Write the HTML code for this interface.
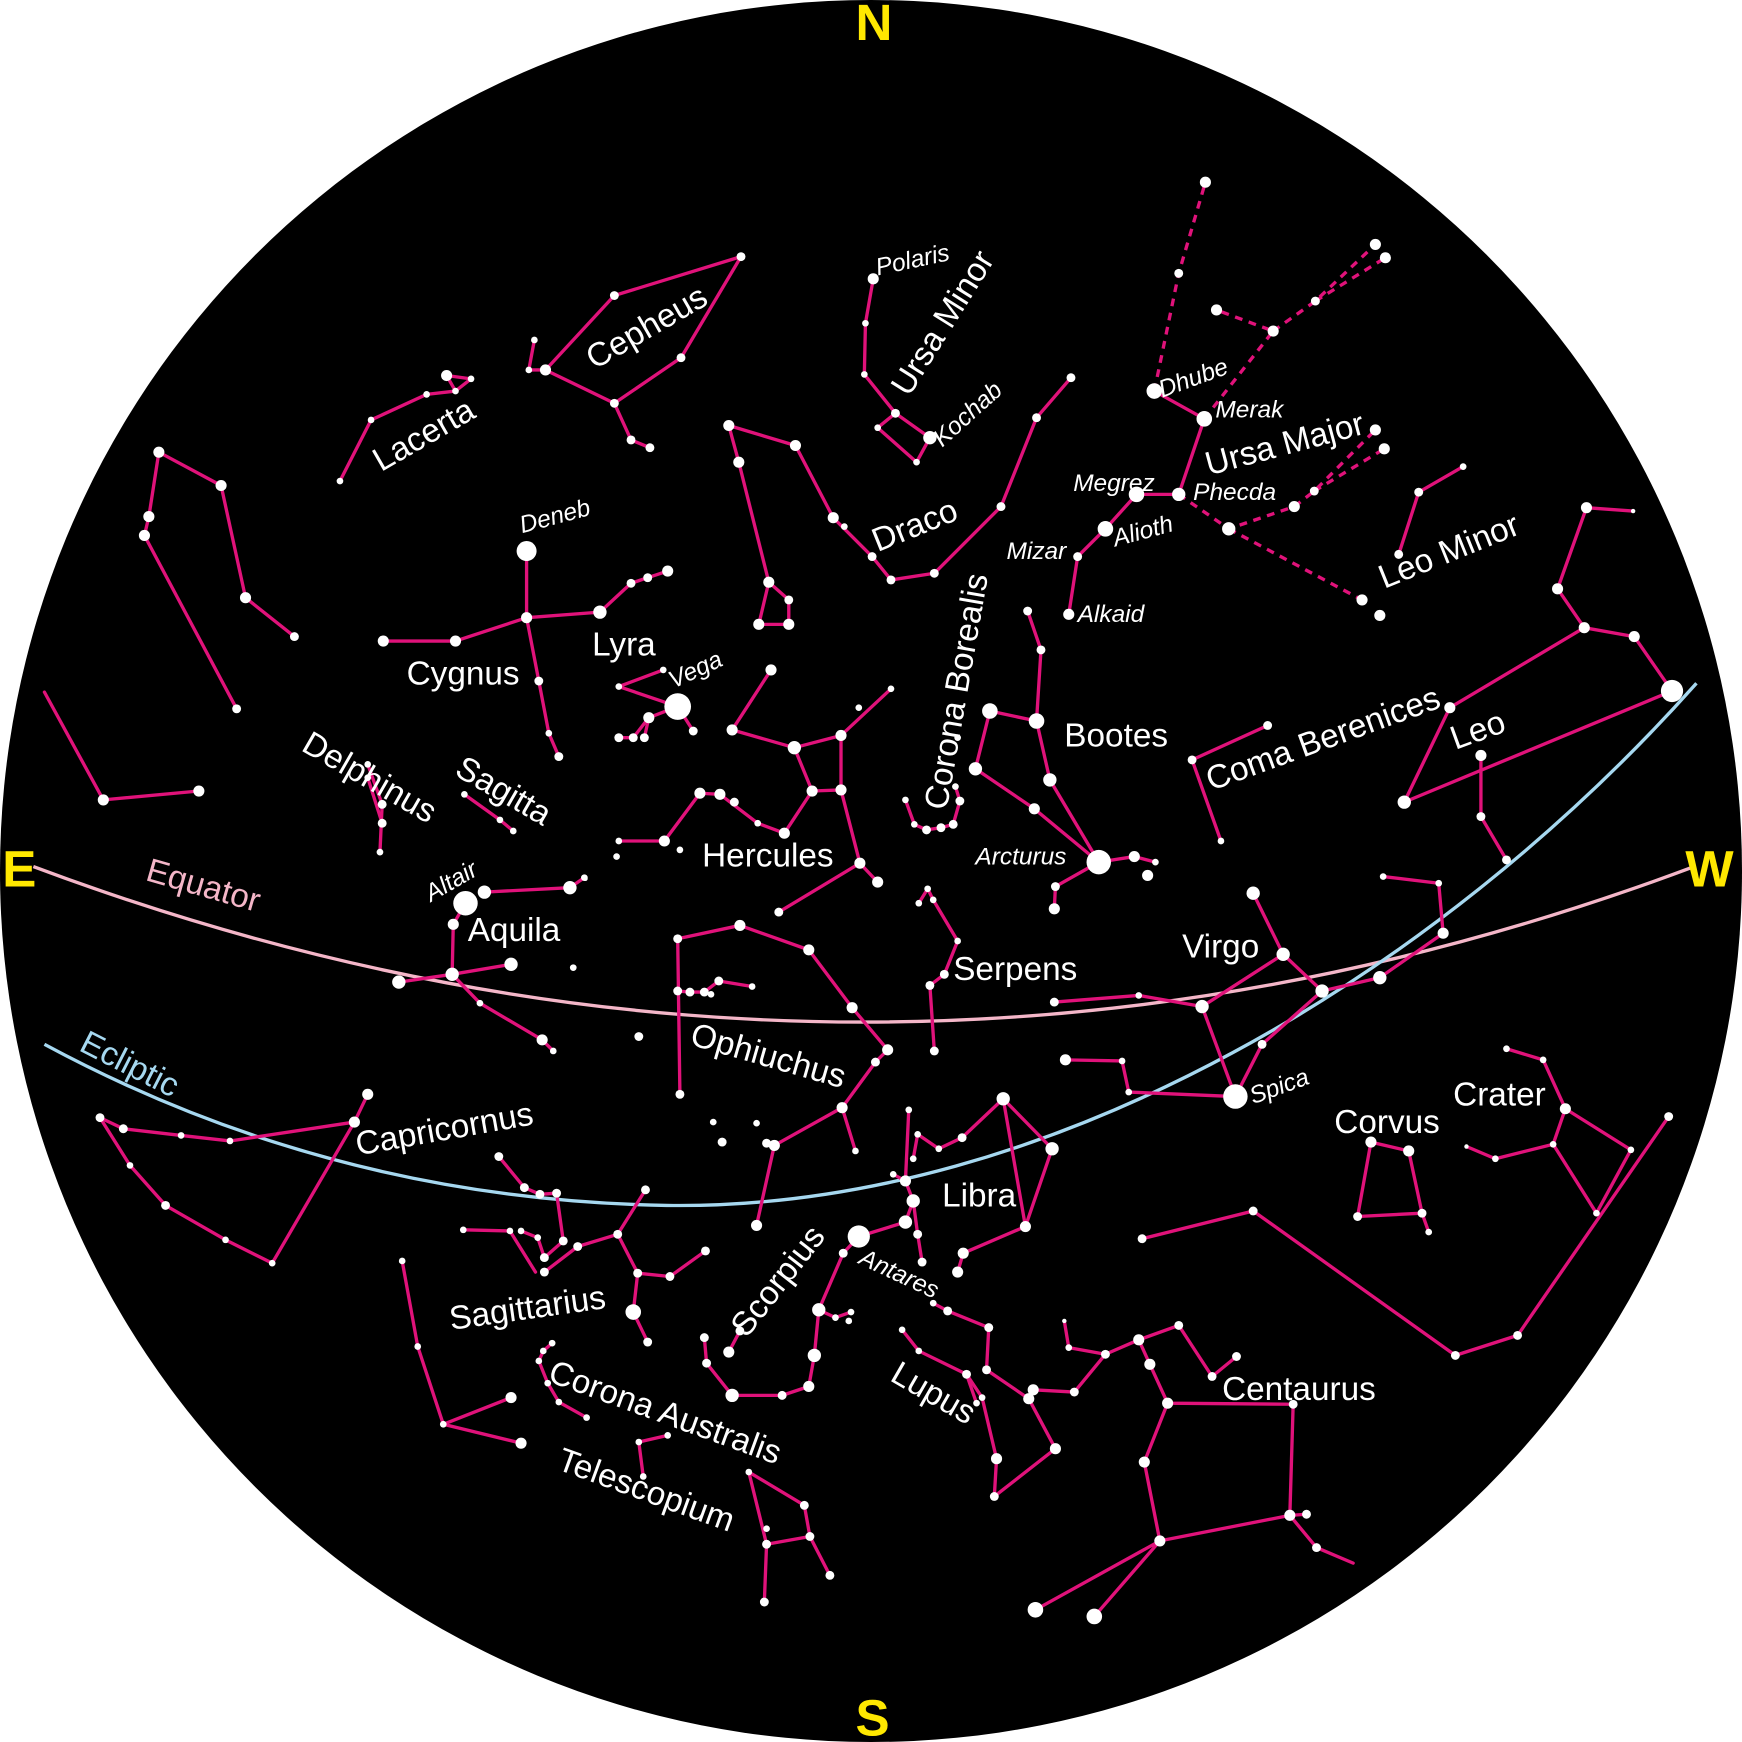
<!DOCTYPE html>
<html><head><meta charset="utf-8"><style>
html,body{margin:0;padding:0;background:#fff;width:1742px;height:1742px;overflow:hidden}
svg{display:block}
.l{fill:none;stroke:#e0127a;stroke-width:3;stroke-linejoin:round;stroke-linecap:round}
.d{fill:none;stroke:#e0127a;stroke-width:3;stroke-dasharray:7,6}
text{font-family:"Liberation Sans",sans-serif;fill:#fff}
.c{font-size:30px}
.s{font-size:22px;font-style:italic}
.y{fill:#ffe800;font-size:46px;font-weight:bold}
</style></head><body>
<svg width="1742" height="1742" viewBox="0 0 1568 1568" xmlns="http://www.w3.org/2000/svg">
<circle cx="784" cy="784" r="784" fill="#000"/>
<path d="M30,780 Q778,1060 1525,780" fill="none" stroke="#f4b6c8" stroke-width="3"/>
<path d="M40,940 Q300,1080 600,1085 C950,1090 1300,870 1527,615" fill="none" stroke="#a6d8f0" stroke-width="3"/>
<g class="l">
<polyline points="491,333 553,266 667,231 613,322 553,363 491,333 476,333 481,306"/>
<polyline points="553,363 568,396 585,403"/>
<polyline points="306,433 334,378 384,355 410,352 424,341 402,338 410,352"/>
<polyline points="474,496 474,556 485,613 494,660 503,681"/>
<polyline points="345,577 410,577 474,556 540,551 568,525 583,520 601,514"/>
<polyline points="557,618 597,603"/>
<polyline points="610,636 624,658"/><polyline points="610,636 584,646 570,664 557,664"/><polyline points="584,646 580,664"/><polyline points="557,618 610,636"/>
<polyline points="331,688 344,724 342,767"/><polyline points="331,700 344,741"/>
<polyline points="418,715 450,738 462,748"/>
<polyline points="436,803 513,799 526,790"/>
<polyline points="419,813 408,832 407,877 359,884"/><polyline points="407,877 460,868"/><polyline points="407,877 432,903 488,936 498,946"/>
<polyline points="656,383 716,401 750,466 785,501 802,522 841,516 901,456 933,376 964,340"/>
<polyline points="656,383 665,416 692,524 710,540 710,562 683,562 692,524"/>
<polyline points="786,251 779,291 778,337 806,372 790,385 825,416 837,394 806,372"/>
<polyline points="694,603 659,657 715,673 757,662 802,620"/>
<polyline points="715,673 731,712 757,711 757,662"/>
<polyline points="731,712 706,750 682,741 648,715 630,714 598,757 557,757"/>
<polyline points="757,711 774,777 790,794"/><polyline points="774,777 701,821"/>
<polyline points="815,720 823,742 834,747 847,745 858,742 864,721 860,708"/>
<polyline points="925,550 937,585 933,649 891,640 878,692 931,728 989,776"/>
<polyline points="933,649 945,702 989,776 1021,771 1040,776"/><polyline points="989,776 950,798 949,818"/>
<polyline points="962,553 970,501 995,476 1023,445 1061,445 1084,377 1039,352"/>
<polyline points="1259,499 1277,443 1317,420"/>
<polyline points="1505,622 1471,573 1426,565 1402,530 1428,457 1470,460"/>
<polyline points="1426,565 1305,637 1264,722 1505,622"/><polyline points="1333,680 1333,735 1356,774"/>
<polyline points="1141,653 1073,684 1099,757"/>
<polyline points="1128,804 1155,859 1082,906 1112,987"/>
<polyline points="1155,859 1190,892 1242,880 1299,840 1295,795 1245,789"/>
<polyline points="1190,892 1136,940 1112,987 1016,983 1010,955 959,954"/>
<polyline points="1082,906 1025,896 949,902"/>
<polyline points="1234,1028 1268,1036 1280,1092 1222,1095 1234,1028"/><polyline points="1280,1092 1286,1109"/>
<polyline points="1356,944 1389,954 1409,998 1398,1030 1437,1092 1468,1035 1409,998"/><polyline points="1398,1030 1346,1043 1320,1032"/>
<polyline points="1028,1115 1128,1090 1310,1220 1366,1202 1502,1005"/>
<polyline points="932,1449 1044,1387 985,1455"/>
<polyline points="1044,1387 1161,1364 1164,1264 1051,1263 1035,1228 1025,1206 1061,1193 1091,1239 1113,1221"/>
<polyline points="1161,1364 1185,1393 1218,1407"/><polyline points="1161,1364 1176,1363"/>
<polyline points="1044,1387 1030,1316 1051,1263"/>
<polyline points="1025,1206 995,1219 967,1253 930,1251"/><polyline points="995,1219 962,1213 958,1189"/>
<polyline points="812,1197 827,1216 870,1237 884,1258 897,1313 895,1347 950,1304 926,1259 888,1233 890,1195 853,1180 840,1173"/>
<polyline points="870,1237 879,1263"/>
<polyline points="903,989 947,1034 923,1104 903,989 866,1024 845,1034 826,1021 822,1043"/>
<polyline points="867,1128 923,1104"/><polyline points="862,1145 867,1128"/>
<polyline points="818,999 815,1063 822,1081 826,1111 830,1136"/>
<polyline points="804,1057 815,1063"/>
<polyline points="822,1081 815,1100 773,1113 759,1128 737,1179 733,1220 728,1248 704,1256 659,1256 636,1227 634,1204"/>
<polyline points="737,1179 752,1186 766,1181"/><polyline points="656,1217 666,1198"/>
<polyline points="612,985 610,845 666,833 728,855 767,907 799,945 788,956 758,997 697,1031 681,1103"/>
<polyline points="758,997 770,1036"/>
<polyline points="610,892 621,893 634,893 647,883 677,888"/>
<polyline points="841,946 837,887 850,877 862,847 840,810 835,800 827,813"/>
<polyline points="449,1041 472,1069 486,1075 501,1074 507,1117 490,1132 484,1114 469,1108"/>
<polyline points="417,1107 459,1108 482,1145"/><polyline points="490,1145 520,1122 556,1111 581,1071"/>
<polyline points="556,1111 574,1146 570,1181 583,1208"/><polyline points="574,1146 603,1149 635,1126"/>
<polyline points="90,1006 117,1049 149,1085 203,1116 245,1137 319,1010 331,985"/>
<polyline points="90,1006 111,1016 163,1022 207,1027 319,1010"/>
<polyline points="497,1209 489,1216 485,1225 493,1245 503,1262 528,1276"/>
<polyline points="575,1298 579,1329"/><polyline points="575,1298 601,1292"/>
<polyline points="674,1325 724,1355 729,1383 747,1418"/><polyline points="674,1325 690,1390 688,1442"/><polyline points="690,1390 729,1383"/>
<polyline points="362,1135 376,1212 399,1282 460,1258"/><polyline points="399,1282 469,1299"/>
<polyline points="143,407 199,437 221,538 265,573"/>
<polyline points="143,407 134,465 130,482 213,638"/>
<polyline points="40,623 93,720 179,712"/>
</g>
<g class="d">
<polyline points="1039,352 1061,246 1085,164"/>
<polyline points="1084,377 1146,298 1095,279"/>
<polyline points="1146,298 1184,271 1238,220"/><polyline points="1184,271 1247,232"/>
<polyline points="1061,445 1106,476 1165,456 1183,442 1238,387"/><polyline points="1183,442 1246,404"/>
<polyline points="1106,476 1226,540"/>
</g>
<g fill="#fff">
<circle cx="474" cy="496" r="9"/><circle cx="610" cy="636" r="12"/><circle cx="419" cy="813" r="11"/><circle cx="989" cy="776" r="11"/><circle cx="1112" cy="987" r="11"/><circle cx="773" cy="1113" r="10"/><circle cx="1505" cy="622" r="10"/>
<circle cx="1039" cy="352" r="7"/><circle cx="1084" cy="377" r="7"/><circle cx="1023" cy="445" r="7"/><circle cx="995" cy="476" r="7"/><circle cx="1061" cy="445" r="6"/><circle cx="1106" cy="476" r="6"/>
<circle cx="891" cy="640" r="7"/><circle cx="933" cy="649" r="7"/><circle cx="932" cy="1449" r="7"/><circle cx="985" cy="1455" r="7"/><circle cx="570" cy="1181" r="7"/><circle cx="436" cy="803" r="6"/><circle cx="513" cy="799" r="6"/><circle cx="733" cy="1220" r="6"/><circle cx="659" cy="1256" r="6"/><circle cx="737" cy="1179" r="6"/><circle cx="815" cy="1100" r="6"/><circle cx="822" cy="1081" r="6"/><circle cx="903" cy="989" r="6"/><circle cx="947" cy="1034" r="6"/><circle cx="1155" cy="859" r="6"/><circle cx="1128" cy="804" r="6"/><circle cx="1190" cy="892" r="6"/><circle cx="1242" cy="880" r="6"/><circle cx="1082" cy="906" r="6"/><circle cx="1051" cy="1263" r="5"/><circle cx="1044" cy="1387" r="5"/>
</g>
<g fill="#fff">
<circle cx="553" cy="266" r="4"/><circle cx="667" cy="231" r="4"/><circle cx="613" cy="322" r="4"/><circle cx="553" cy="363" r="4"/><circle cx="491" cy="333" r="5"/><circle cx="476" cy="333" r="3"/><circle cx="481" cy="306" r="3"/><circle cx="568" cy="396" r="4"/><circle cx="585" cy="403" r="4"/>
<circle cx="306" cy="433" r="3"/><circle cx="334" cy="378" r="3"/><circle cx="384" cy="355" r="3"/><circle cx="402" cy="338" r="5"/><circle cx="410" cy="352" r="3"/><circle cx="424" cy="341" r="3"/>
<circle cx="474" cy="556" r="5"/><circle cx="485" cy="613" r="4"/><circle cx="494" cy="660" r="3"/><circle cx="503" cy="681" r="4"/><circle cx="345" cy="577" r="5"/><circle cx="410" cy="577" r="5"/><circle cx="540" cy="551" r="6"/><circle cx="568" cy="525" r="4"/><circle cx="583" cy="520" r="4"/><circle cx="601" cy="514" r="5"/>
<circle cx="557" cy="618" r="3"/><circle cx="597" cy="603" r="3"/><circle cx="624" cy="658" r="4"/><circle cx="584" cy="646" r="5"/><circle cx="570" cy="664" r="4"/><circle cx="580" cy="664" r="4"/><circle cx="557" cy="664" r="4"/>
<circle cx="331" cy="688" r="3"/><circle cx="344" cy="724" r="4"/><circle cx="342" cy="767" r="3"/><circle cx="331" cy="700" r="3"/><circle cx="344" cy="741" r="4"/>
<circle cx="418" cy="715" r="3"/><circle cx="450" cy="738" r="3"/><circle cx="462" cy="748" r="3"/>
<circle cx="526" cy="790" r="3"/><circle cx="408" cy="832" r="5"/><circle cx="407" cy="877" r="6"/><circle cx="359" cy="884" r="6"/><circle cx="460" cy="868" r="6"/><circle cx="432" cy="903" r="3"/><circle cx="488" cy="936" r="5"/><circle cx="498" cy="946" r="3"/>
<circle cx="656" cy="383" r="5"/><circle cx="716" cy="401" r="5"/><circle cx="750" cy="466" r="5"/><circle cx="760" cy="474" r="3"/><circle cx="785" cy="501" r="4"/><circle cx="802" cy="522" r="4"/><circle cx="841" cy="516" r="4"/><circle cx="901" cy="456" r="4"/><circle cx="933" cy="376" r="4"/><circle cx="964" cy="340" r="4"/><circle cx="665" cy="416" r="5"/><circle cx="692" cy="524" r="5"/><circle cx="710" cy="540" r="4"/><circle cx="710" cy="562" r="5"/><circle cx="683" cy="562" r="5"/>
<circle cx="786" cy="251" r="5"/><circle cx="779" cy="291" r="3"/><circle cx="778" cy="337" r="3"/><circle cx="806" cy="372" r="4"/><circle cx="790" cy="385" r="3"/><circle cx="825" cy="416" r="3"/><circle cx="837" cy="394" r="6"/>
<circle cx="694" cy="603" r="5"/><circle cx="659" cy="657" r="5"/><circle cx="715" cy="673" r="6"/><circle cx="757" cy="662" r="5"/><circle cx="802" cy="620" r="3"/><circle cx="773" cy="637" r="3"/><circle cx="731" cy="712" r="5"/><circle cx="757" cy="711" r="5"/><circle cx="706" cy="750" r="5"/><circle cx="682" cy="741" r="3"/><circle cx="648" cy="715" r="5"/><circle cx="630" cy="714" r="5"/><circle cx="661" cy="722" r="4"/><circle cx="598" cy="757" r="5"/><circle cx="612" cy="765" r="3"/><circle cx="557" cy="757" r="3"/><circle cx="555" cy="771" r="3"/><circle cx="774" cy="777" r="5"/><circle cx="790" cy="794" r="5"/><circle cx="701" cy="821" r="4"/>
<circle cx="815" cy="720" r="3"/><circle cx="823" cy="742" r="3"/><circle cx="834" cy="747" r="4"/><circle cx="847" cy="745" r="4"/><circle cx="858" cy="742" r="4"/><circle cx="864" cy="721" r="4"/><circle cx="860" cy="708" r="3"/><circle cx="862" cy="664" r="3"/>
<circle cx="925" cy="550" r="4"/><circle cx="937" cy="585" r="4"/><circle cx="878" cy="692" r="6"/><circle cx="931" cy="728" r="5"/><circle cx="945" cy="702" r="6"/><circle cx="1021" cy="771" r="5"/><circle cx="1040" cy="776" r="3"/><circle cx="1033" cy="788" r="5"/><circle cx="950" cy="798" r="4"/><circle cx="949" cy="818" r="5"/>
<circle cx="962" cy="553" r="5"/><circle cx="970" cy="501" r="4"/>
<circle cx="1061" cy="246" r="4"/><circle cx="1085" cy="164" r="5"/><circle cx="1146" cy="298" r="5"/><circle cx="1095" cy="279" r="5"/><circle cx="1184" cy="271" r="4"/><circle cx="1238" cy="220" r="5"/><circle cx="1247" cy="232" r="5"/><circle cx="1165" cy="456" r="5"/><circle cx="1183" cy="442" r="4"/><circle cx="1238" cy="387" r="5"/><circle cx="1246" cy="404" r="5"/><circle cx="1226" cy="540" r="5"/><circle cx="1242" cy="554" r="5"/>
<circle cx="1259" cy="499" r="4"/><circle cx="1277" cy="443" r="4"/><circle cx="1317" cy="420" r="3"/>
<circle cx="1471" cy="573" r="5"/><circle cx="1426" cy="565" r="5"/><circle cx="1402" cy="530" r="5"/><circle cx="1428" cy="457" r="5"/><circle cx="1470" cy="460" r="2"/><circle cx="1305" cy="637" r="5"/><circle cx="1264" cy="722" r="6"/><circle cx="1333" cy="680" r="5"/><circle cx="1333" cy="735" r="4"/><circle cx="1356" cy="774" r="4"/>
<circle cx="1141" cy="653" r="4"/><circle cx="1073" cy="684" r="4"/><circle cx="1099" cy="757" r="3"/>
<circle cx="1299" cy="840" r="5"/><circle cx="1295" cy="795" r="3"/><circle cx="1245" cy="789" r="3"/><circle cx="1136" cy="940" r="4"/><circle cx="1025" cy="896" r="3"/><circle cx="949" cy="902" r="4"/><circle cx="1016" cy="983" r="3"/><circle cx="1010" cy="955" r="3"/><circle cx="959" cy="954" r="5"/>
<circle cx="1234" cy="1028" r="5"/><circle cx="1268" cy="1036" r="5"/><circle cx="1280" cy="1092" r="4"/><circle cx="1222" cy="1095" r="4"/><circle cx="1286" cy="1109" r="3"/>
<circle cx="1356" cy="944" r="3"/><circle cx="1389" cy="954" r="3"/><circle cx="1409" cy="998" r="5"/><circle cx="1398" cy="1030" r="3"/><circle cx="1437" cy="1092" r="3"/><circle cx="1468" cy="1035" r="3"/><circle cx="1346" cy="1043" r="3"/><circle cx="1320" cy="1032" r="2"/>
<circle cx="1028" cy="1115" r="4"/><circle cx="1128" cy="1090" r="4"/><circle cx="1310" cy="1220" r="4"/><circle cx="1366" cy="1202" r="4"/><circle cx="1502" cy="1005" r="4"/>
<circle cx="1161" cy="1364" r="5"/><circle cx="1164" cy="1264" r="4"/><circle cx="1035" cy="1228" r="5"/><circle cx="1025" cy="1206" r="5"/><circle cx="1061" cy="1193" r="4"/><circle cx="1091" cy="1239" r="4"/><circle cx="1113" cy="1221" r="4"/><circle cx="1185" cy="1393" r="4"/><circle cx="1176" cy="1363" r="4"/><circle cx="1030" cy="1316" r="5"/><circle cx="995" cy="1219" r="4"/><circle cx="967" cy="1253" r="4"/><circle cx="930" cy="1251" r="5"/><circle cx="962" cy="1213" r="3"/><circle cx="958" cy="1189" r="2"/>
<circle cx="812" cy="1197" r="3"/><circle cx="827" cy="1216" r="3"/><circle cx="870" cy="1237" r="4"/><circle cx="884" cy="1258" r="3"/><circle cx="897" cy="1313" r="5"/><circle cx="895" cy="1347" r="4"/><circle cx="950" cy="1304" r="5"/><circle cx="926" cy="1259" r="5"/><circle cx="888" cy="1233" r="4"/><circle cx="890" cy="1195" r="4"/><circle cx="853" cy="1180" r="4"/><circle cx="840" cy="1173" r="3"/><circle cx="879" cy="1263" r="3"/>
<circle cx="923" cy="1104" r="5"/><circle cx="866" cy="1024" r="4"/><circle cx="845" cy="1034" r="3"/><circle cx="826" cy="1021" r="3"/><circle cx="822" cy="1043" r="3"/><circle cx="804" cy="1057" r="3"/><circle cx="867" cy="1128" r="5"/><circle cx="862" cy="1145" r="5"/><circle cx="818" cy="999" r="3"/><circle cx="815" cy="1063" r="5"/><circle cx="826" cy="1111" r="4"/><circle cx="830" cy="1136" r="4"/>
<circle cx="759" cy="1128" r="4"/><circle cx="728" cy="1248" r="5"/><circle cx="704" cy="1256" r="4"/><circle cx="636" cy="1227" r="4"/><circle cx="634" cy="1204" r="4"/><circle cx="752" cy="1186" r="3"/><circle cx="766" cy="1181" r="3"/><circle cx="764" cy="1189" r="3"/><circle cx="656" cy="1217" r="5"/><circle cx="666" cy="1198" r="4"/>
<circle cx="612" cy="985" r="4"/><circle cx="610" cy="845" r="4"/><circle cx="666" cy="833" r="5"/><circle cx="728" cy="855" r="5"/><circle cx="767" cy="907" r="5"/><circle cx="799" cy="945" r="5"/><circle cx="788" cy="956" r="4"/><circle cx="758" cy="997" r="5"/><circle cx="697" cy="1031" r="5"/><circle cx="681" cy="1103" r="5"/><circle cx="770" cy="1036" r="3"/><circle cx="610" cy="892" r="4"/><circle cx="621" cy="893" r="4"/><circle cx="634" cy="893" r="4"/><circle cx="647" cy="883" r="4"/><circle cx="677" cy="888" r="3"/><circle cx="640" cy="895" r="3"/>
<circle cx="841" cy="946" r="4"/><circle cx="837" cy="887" r="4"/><circle cx="850" cy="877" r="4"/><circle cx="862" cy="847" r="3"/><circle cx="840" cy="810" r="3"/><circle cx="835" cy="800" r="3"/><circle cx="827" cy="813" r="3"/>
<circle cx="575" cy="933" r="4"/><circle cx="642" cy="1010" r="3"/><circle cx="650" cy="1028" r="4"/><circle cx="681" cy="1011" r="3"/><circle cx="690" cy="1029" r="4"/><circle cx="516" cy="871" r="3"/><circle cx="527" cy="791" r="2"/>
<circle cx="449" cy="1041" r="4"/><circle cx="472" cy="1069" r="4"/><circle cx="486" cy="1075" r="4"/><circle cx="501" cy="1074" r="4"/><circle cx="507" cy="1117" r="4"/><circle cx="490" cy="1132" r="4"/><circle cx="484" cy="1114" r="3"/><circle cx="469" cy="1108" r="3"/><circle cx="417" cy="1107" r="3"/><circle cx="459" cy="1108" r="3"/><circle cx="490" cy="1145" r="4"/><circle cx="520" cy="1122" r="4"/><circle cx="556" cy="1111" r="4"/><circle cx="581" cy="1071" r="4"/><circle cx="574" cy="1146" r="4"/><circle cx="583" cy="1208" r="4"/><circle cx="603" cy="1149" r="4"/><circle cx="635" cy="1126" r="4"/>
<circle cx="90" cy="1006" r="4"/><circle cx="117" cy="1049" r="3"/><circle cx="149" cy="1085" r="4"/><circle cx="203" cy="1116" r="3"/><circle cx="245" cy="1137" r="3"/><circle cx="319" cy="1010" r="5"/><circle cx="331" cy="985" r="5"/><circle cx="111" cy="1016" r="4"/><circle cx="163" cy="1022" r="3"/><circle cx="207" cy="1027" r="3"/>
<circle cx="497" cy="1209" r="3"/><circle cx="489" cy="1216" r="3"/><circle cx="485" cy="1225" r="3"/><circle cx="493" cy="1245" r="3"/><circle cx="503" cy="1262" r="3"/><circle cx="528" cy="1276" r="3"/>
<circle cx="575" cy="1298" r="3"/><circle cx="579" cy="1329" r="3"/><circle cx="601" cy="1292" r="3"/>
<circle cx="674" cy="1325" r="3"/><circle cx="724" cy="1355" r="4"/><circle cx="729" cy="1383" r="4"/><circle cx="747" cy="1418" r="4"/><circle cx="690" cy="1390" r="4"/><circle cx="688" cy="1442" r="4"/><circle cx="690" cy="1376" r="3"/>
<circle cx="362" cy="1135" r="3"/><circle cx="376" cy="1212" r="3"/><circle cx="399" cy="1282" r="3"/><circle cx="460" cy="1258" r="5"/><circle cx="469" cy="1299" r="5"/>
<circle cx="143" cy="407" r="5"/><circle cx="199" cy="437" r="5"/><circle cx="221" cy="538" r="5"/><circle cx="265" cy="573" r="4"/><circle cx="134" cy="465" r="5"/><circle cx="130" cy="482" r="5"/><circle cx="213" cy="638" r="4"/><circle cx="93" cy="720" r="5"/><circle cx="179" cy="712" r="5"/>
</g>
<text class="y" x="770" y="36">N</text>
<text class="y" x="770" y="1562">S</text>
<text class="y" x="2" y="798">E</text>
<text class="y" x="1517" y="798">W</text>
<g class="c">
<text transform="translate(535,333) rotate(-30)">Cepheus</text>
<text transform="translate(343,425) rotate(-30)">Lacerta</text>
<text transform="translate(818,358) rotate(-58)">Ursa Minor</text>
<text transform="translate(790,497) rotate(-22)">Draco</text>
<text transform="translate(852,730) rotate(-80)">Corona Borealis</text>
<text transform="translate(1088,428) rotate(-15)">Ursa Major</text>
<text transform="translate(1246,530) rotate(-22)">Leo Minor</text>
<text transform="translate(1090,712) rotate(-20)">Coma Berenices</text>
<text transform="translate(1310,675) rotate(-20)">Leo</text>
<text x="366" y="616">Cygnus</text>
<text x="533" y="590">Lyra</text>
<text x="958" y="672">Bootes</text>
<text transform="translate(270,675) rotate(30)">Delphinus</text>
<text transform="translate(408,697) rotate(30)">Sagitta</text>
<text x="632" y="780">Hercules</text>
<text x="421" y="847">Aquila</text>
<text x="858" y="882">Serpens</text>
<text x="1064" y="862">Virgo</text>
<text transform="translate(620,940) rotate(16)">Ophiuchus</text>
<text transform="translate(322,1040) rotate(-10)">Capricornus</text>
<text x="848" y="1086">Libra</text>
<text x="1308" y="995">Crater</text>
<text x="1201" y="1020">Corvus</text>
<text transform="translate(406,1197) rotate(-8)">Sagittarius</text>
<text transform="translate(672,1205) rotate(-52)">Scorpius</text>
<text transform="translate(800,1242) rotate(30)">Lupus</text>
<text transform="translate(492,1243) rotate(20)">Corona Australis</text>
<text transform="translate(500,1322) rotate(20)">Telescopium</text>
<text x="1100" y="1260">Centaurus</text>
</g>
<text class="c" transform="translate(130,792) rotate(16)" style="fill:#f4b6c8">Equator</text>
<text class="c" transform="translate(70,945) rotate(27)" style="fill:#a6d8f0">Ecliptic</text>
<g class="s">
<text transform="translate(790,248) rotate(-12)">Polaris</text>
<text transform="translate(848,403) rotate(-42)">Kochab</text>
<text transform="translate(470,480) rotate(-15)">Deneb</text>
<text transform="translate(606,620) rotate(-25)">Vega</text>
<text transform="translate(388,812) rotate(-30)">Altair</text>
<text x="878" y="778">Arcturus</text>
<text transform="translate(1128,994) rotate(-20)">Spica</text>
<text transform="translate(772,1137) rotate(25)">Antares</text>
<text transform="translate(1046,358) rotate(-20)">Dhube</text>
<text x="1094" y="376">Merak</text>
<text x="966" y="442">Megrez</text>
<text x="1074" y="450">Phecda</text>
<text transform="translate(1004,492) rotate(-15)">Alioth</text>
<text x="906" y="503">Mizar</text>
<text x="970" y="560">Alkaid</text>
</g>
</svg>
</body></html>
